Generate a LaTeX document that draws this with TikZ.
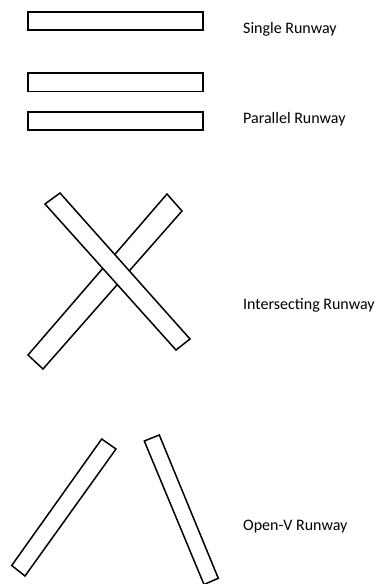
\documentclass[tikz,border=0pt]{standalone}
\usepackage{fontspec}
\setmainfont{Carlito}
\begin{document}
\begin{tikzpicture}[x=1pt,y=-1pt,
  runway/.style={draw=black,line width=1.5pt,line join=miter,fill=white},
  lbl/.style={anchor=base west,inner sep=0pt,font=\fontsize{16}{19}\selectfont}]
\useasboundingbox (0,0) rectangle (376,584);
% Single
\draw[runway] (28,12) rectangle (203,30);
\node[lbl] (single) at (243,33) {Single Runway};
% Parallel
\draw[runway] (28,73) rectangle (203,91.5);
\draw[runway] (28,112) rectangle (203,130);
\node[lbl] (parallel) at (243,123) {Parallel Runway};
% Intersecting
\draw[runway] (167,194) -- (182,211) -- (43,369) -- (28,355) -- cycle;
\draw[runway] (45,204) -- (60,193) -- (190,339) -- (176,350) -- cycle;
\node[lbl] (inter) at (243,309.5) {Intersecting Runway};
% Open-V
\draw[runway] (101.7,439) -- (116,449) -- (25,576) -- (11.7,565.5) -- cycle;
\draw[runway] (144.3,441) -- (159.3,435) -- (218.3,578.3) -- (204,584.5) -- cycle;
\node[lbl] (openv) at (243,530.7) {Open-V Runway};
\end{tikzpicture}
\end{document}
